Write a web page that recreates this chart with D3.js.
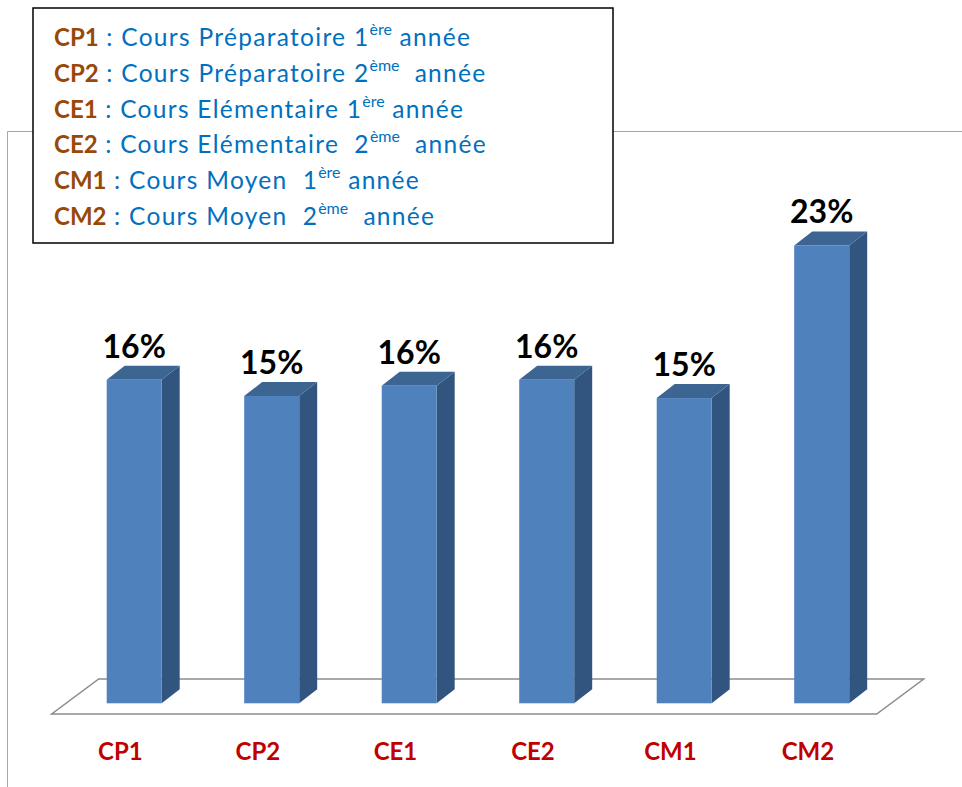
<!DOCTYPE html>
<html>
<head>
<meta charset="utf-8">
<script src="https://cdn.jsdelivr.net/npm/d3@7"></script>
<style>
  body { margin: 0; background: #fff; }
  svg { display: block; font-family: Lato, "Open Sans", sans-serif; }
</style>
</head>
<body>
<div id="chart"></div>
<script>
const categories = ['CP1', 'CP2', 'CE1', 'CE2', 'CM1', 'CM2'];
const values = [15.9, 15.1, 15.6, 15.9, 15.0, 22.5]; // percent
const legendCodes = ['CP1', 'CP2', 'CE1', 'CE2', 'CM1', 'CM2'];
const legendLabels = [
  ['Cours Préparatoire 1', 'ère', ' année'],
  ['Cours Préparatoire 2', 'ème', '  année'],
  ['Cours Elémentaire 1', 'ère', ' année'],
  ['Cours Elémentaire  2', 'ème', '  année'],
  ['Cours Moyen  1', 'ère', ' année'],
  ['Cours Moyen  2', 'ème', '  année']
];

const width = 962, height = 787;
const svg = d3.select('#chart').append('svg')
  .attr('width', width)
  .attr('height', height);

// outer frame (top + left edges)
svg.append('path')
  .attr('d', 'M7.5,787 L7.5,131.5 L962,131.5')
  .attr('fill', 'none')
  .attr('stroke', '#a6a6a6')
  .attr('stroke-width', 1);

const floorFront = 714, floorDx = 47, floorDy = -35;
const x = d3.scaleBand().domain(categories).range([51.7, 876.7]);
const y = d3.scaleLinear().domain([0, 25]).range([703.3, 703.3 - 25 * 20.35]);
const depthDx = 18, depthDy = -14;
const barW = x.bandwidth() * 0.4;
const barOff = x.bandwidth() * 0.4;

// floor
const [fx0, fx1] = x.range();
svg.append('path')
  .attr('d', `M${fx0},${floorFront} L${fx1},${floorFront} L${fx1 + floorDx},${floorFront + floorDy} L${fx0 + floorDx},${floorFront + floorDy} Z`)
  .attr('fill', 'none')
  .attr('stroke', '#8c8c8c')
  .attr('stroke-width', 1.5);

const data = categories.map((c, i) => ({ c, v: values[i] }));
const bars = svg.selectAll('g.bar').data(data).join('g').attr('class', 'bar');

// side
bars.append('path')
  .attr('d', d => {
    const x1 = x(d.c) + barOff + barW, yt = y(d.v), yb = y(0);
    return `M${x1},${yt} L${x1 + depthDx},${yt + depthDy} L${x1 + depthDx},${yb + depthDy} L${x1},${yb} Z`;
  })
  .attr('fill', '#325580');

// top
bars.append('path')
  .attr('d', d => {
    const x0 = x(d.c) + barOff, x1 = x0 + barW, yt = y(d.v);
    return `M${x0},${yt} L${x0 + depthDx},${yt + depthDy} L${x1 + depthDx},${yt + depthDy} L${x1},${yt} Z`;
  })
  .attr('fill', '#3d6591');

// front
bars.append('rect')
  .attr('x', d => x(d.c) + barOff)
  .attr('y', d => y(d.v))
  .attr('width', barW)
  .attr('height', d => y(0) - y(d.v))
  .attr('fill', '#4f81bd');

// value labels
bars.append('text')
  .attr('x', d => x(d.c) + barOff + barW / 2)
  .attr('y', d => y(d.v) + depthDy - 8)
  .attr('text-anchor', 'middle')
  .attr('font-weight', 'bold')
  .attr('font-size', 32)
  .attr('fill', '#000')
  .text(d => Math.round(d.v) + '%');

// category labels
svg.selectAll('text.cat').data(categories).join('text')
  .attr('class', 'cat')
  .attr('x', d => x(d) + x.bandwidth() / 2)
  .attr('y', 759.5)
  .attr('text-anchor', 'middle')
  .attr('font-weight', 'bold')
  .attr('font-size', 24)
  .attr('fill', '#c00000')
  .text(d => d);

// legend box
svg.append('rect')
  .attr('x', 33).attr('y', 8)
  .attr('width', 580).attr('height', 235)
  .attr('fill', '#fff')
  .attr('stroke', '#000')
  .attr('stroke-width', 1.5);

const lg = svg.selectAll('text.leg').data(legendCodes).join('text')
  .attr('class', 'leg')
  .attr('x', 54)
  .attr('y', (d, i) => 46 + i * 35.8)
  .attr('font-size', 24.5)
  .attr('xml:space', 'preserve')
  .style('white-space', 'pre');

lg.append('tspan')
  .attr('fill', '#984807')
  .attr('font-weight', 'bold')
  .attr('font-size', 24)
  .text(d => d);
lg.append('tspan')
  .attr('fill', '#0070c0')
  .attr('letter-spacing', 1.3)
  .text((d, i) => ' : ' + legendLabels[i][0]);
lg.append('tspan')
  .attr('fill', '#0070c0')
  .attr('font-size', 16)
  .attr('dy', -11)
  .text((d, i) => legendLabels[i][1]);
lg.append('tspan')
  .attr('fill', '#0070c0')
  .attr('letter-spacing', 1.3)
  .attr('dy', 11)
  .text((d, i) => legendLabels[i][2]);
</script>
</body>
</html>
